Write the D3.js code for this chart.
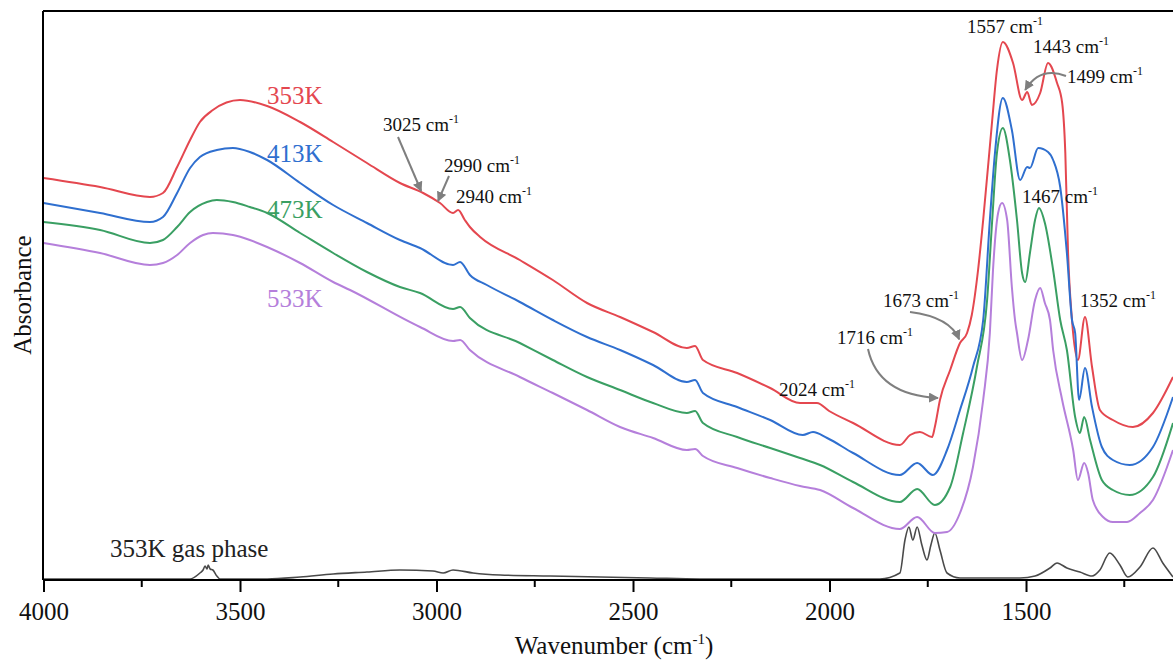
<!DOCTYPE html>
<html>
<head>
<meta charset="utf-8">
<script src="https://cdn.jsdelivr.net/npm/d3@7"></script>
<style>
  html, body { margin: 0; padding: 0; background: #fff; }
  svg text { font-family: "Liberation Serif", "Times New Roman", serif; }
</style>
</head>
<body>
<div id="chart"></div>
<script>
// spectra: [wavenumber (cm-1), absorbance (a.u.)]
const spec353 = [
  [4000, 2.01], [3856, 1.965], [3729, 1.915], [3696, 1.935], [3660, 2.065], [3627, 2.20],
  [3602, 2.29], [3569, 2.35], [3500, 2.40], [3431, 2.37], [3347, 2.29], [3263, 2.19],
  [3177, 2.085], [3093, 1.985], [3034, 1.935], [2991, 1.885], [2958, 1.835], [2945, 1.85],
  [2928, 1.80], [2915, 1.765], [2889, 1.715], [2788, 1.60], [2704, 1.50], [2617, 1.385],
  [2533, 1.315], [2449, 1.24], [2363, 1.16], [2342, 1.17], [2322, 1.10], [2235, 1.035],
  [2151, 0.96], [2075, 0.885], [2032, 0.885], [2001, 0.845], [1940, 0.785], [1821, 0.675],
  [1795, 0.725], [1770, 0.74], [1739, 0.715], [1732, 0.765], [1719, 0.90], [1693, 1.05],
  [1668, 1.185], [1650, 1.235], [1638, 1.325], [1622, 1.55], [1609, 1.80], [1586, 2.30],
  [1574, 2.55], [1559, 2.69], [1533, 2.585], [1510, 2.40], [1497, 2.44], [1485, 2.375],
  [1464, 2.435], [1444, 2.585], [1421, 2.485], [1408, 2.385], [1400, 2.135], [1393, 1.635],
  [1383, 1.30], [1368, 1.10], [1350, 1.315], [1332, 1.065], [1312, 0.85], [1279, 0.80],
  [1228, 0.765], [1177, 0.835], [1126, 1.015]
];

const spec413 = [
  [4000, 1.885], [3856, 1.835], [3729, 1.79], [3696, 1.815], [3660, 1.935], [3627, 2.06],
  [3602, 2.115], [3559, 2.15], [3518, 2.16], [3475, 2.14], [3431, 2.10], [3347, 1.985],
  [3263, 1.875], [3177, 1.785], [3093, 1.70], [3042, 1.66], [2958, 1.575], [2940, 1.59],
  [2915, 1.525], [2872, 1.475], [2788, 1.39], [2704, 1.30], [2617, 1.215], [2533, 1.15],
  [2449, 1.075], [2363, 0.99], [2342, 1.00], [2322, 0.935], [2235, 0.865], [2151, 0.80],
  [2068, 0.725], [2042, 0.74], [2006, 0.71], [1940, 0.635], [1821, 0.525], [1777, 0.585],
  [1737, 0.525], [1701, 0.65], [1668, 0.85], [1635, 1.065], [1609, 1.30], [1592, 1.80],
  [1579, 2.135], [1559, 2.41], [1536, 2.25], [1515, 2.00], [1497, 2.065], [1490, 2.06],
  [1469, 2.16], [1444, 2.14], [1431, 2.10], [1413, 1.965], [1396, 1.635], [1383, 1.30],
  [1375, 1.235], [1365, 0.90], [1350, 1.06], [1332, 0.865], [1307, 0.665], [1279, 0.60],
  [1236, 0.575], [1177, 0.665], [1126, 0.915]
];

const spec473 = [
  [4000, 1.79], [3856, 1.75], [3729, 1.685], [3696, 1.70], [3660, 1.765], [3627, 1.84],
  [3584, 1.89], [3559, 1.90], [3518, 1.89], [3475, 1.865], [3431, 1.835], [3347, 1.735],
  [3263, 1.635], [3177, 1.54], [3093, 1.465], [3042, 1.435], [2958, 1.355], [2940, 1.365],
  [2915, 1.31], [2788, 1.185], [2704, 1.10], [2617, 1.015], [2533, 0.95], [2449, 0.885],
  [2363, 0.835], [2342, 0.845], [2322, 0.785], [2235, 0.715], [2151, 0.66], [2075, 0.61],
  [2024, 0.575], [1940, 0.49], [1821, 0.39], [1777, 0.455], [1732, 0.375], [1693, 0.465],
  [1660, 0.735], [1625, 1.065], [1599, 1.40], [1586, 1.80], [1574, 2.135], [1559, 2.26],
  [1541, 2.10], [1523, 1.80], [1510, 1.535], [1502, 1.49], [1490, 1.635], [1477, 1.80],
  [1467, 1.86], [1452, 1.785], [1431, 1.55], [1413, 1.30], [1396, 1.15], [1375, 0.815],
  [1363, 0.735], [1352, 0.815], [1337, 0.70], [1307, 0.50], [1279, 0.45], [1236, 0.425],
  [1177, 0.515], [1126, 0.785]
];

const spec533 = [
  [4000, 1.685], [3856, 1.635], [3729, 1.575], [3696, 1.585], [3660, 1.625], [3627, 1.685],
  [3594, 1.725], [3569, 1.735], [3518, 1.725], [3475, 1.70], [3431, 1.665], [3347, 1.585],
  [3263, 1.49], [3220, 1.45], [3042, 1.265], [2958, 1.195], [2940, 1.20], [2915, 1.15],
  [2788, 1.015], [2704, 0.935], [2617, 0.85], [2533, 0.765], [2449, 0.71], [2363, 0.65],
  [2342, 0.655], [2322, 0.62], [2235, 0.56], [2151, 0.51], [2075, 0.47], [2024, 0.45],
  [1940, 0.36], [1821, 0.255], [1777, 0.315], [1732, 0.235], [1701, 0.24], [1668, 0.335],
  [1635, 0.565], [1609, 0.90], [1592, 1.235], [1584, 1.55], [1571, 1.835], [1561, 1.885],
  [1548, 1.80], [1536, 1.465], [1528, 1.30], [1523, 1.235], [1510, 1.10], [1495, 1.20],
  [1477, 1.40], [1464, 1.46], [1452, 1.385], [1439, 1.30], [1431, 1.15], [1408, 0.90],
  [1380, 0.65], [1368, 0.50], [1352, 0.585], [1342, 0.535], [1330, 0.40], [1304, 0.315],
  [1279, 0.29], [1243, 0.29], [1210, 0.335], [1177, 0.40], [1126, 0.65]
];

const specGas = [
  [4000, 0.005], [3627, 0.005], [3602, 0.035], [3594, 0.05], [3589, 0.07], [3584, 0.055],
  [3581, 0.075], [3576, 0.055], [3569, 0.05], [3559, 0.02], [3551, 0.005], [3431, 0.005],
  [3347, 0.015], [3263, 0.03], [3177, 0.04], [3093, 0.05], [3009, 0.045], [2983, 0.035],
  [2958, 0.05], [2907, 0.035], [2838, 0.025], [2711, 0.02], [2584, 0.015], [2457, 0.01],
  [2330, 0.005], [2075, 0.005], [1872, 0.005], [1821, 0.035], [1808, 0.20], [1798, 0.265],
  [1788, 0.20], [1777, 0.265], [1765, 0.175], [1752, 0.10], [1742, 0.175], [1732, 0.235],
  [1719, 0.15], [1701, 0.035], [1668, 0.01], [1515, 0.01], [1477, 0.02], [1439, 0.06],
  [1421, 0.085], [1396, 0.06], [1363, 0.04], [1332, 0.02], [1312, 0.05], [1287, 0.135],
  [1261, 0.075], [1241, 0.015], [1210, 0.065], [1177, 0.16], [1152, 0.085], [1126, 0.015]
];

const tempLabels = ["353K", "413K", "473K", "533K"];
const tempColors = ["#e4474f", "#2f6fcf", "#3a9f63", "#b57fdb"];
const majorTicks = [4000, 3500, 3000, 2500, 2000, 1500];
const minorTicks = [3750, 3250, 2750, 2250, 1750, 1250];

// peak annotations: label, text pos (px), arrow from text to a wavenumber on the 353K curve
const peakNotes = [
  { label: "3025", x: 383, y: 131, arrow: { from: [398, 137], via: null, wn: 3034 } },
  { label: "2990", x: 444, y: 172, arrow: { from: [449, 176], via: null, wn: 2991 } },
  { label: "2940", x: 456, y: 203 },
  { label: "2024", x: 779, y: 396 },
  { label: "1716", x: 837, y: 344, arrow: { from: [868, 349], via: [878, 395], wn: 1719 } },
  { label: "1673", x: 883, y: 307, arrow: { from: [910, 312], via: [950, 317], wn: 1665 } },
  { label: "1557", x: 967, y: 33 },
  { label: "1443", x: 1033, y: 53 },
  { label: "1499", x: 1067, y: 83, arrow: { from: [1066, 76], via: [1040, 66], wn: 1497 } },
  { label: "1467", x: 1022, y: 203 },
  { label: "1352", x: 1080, y: 307 }
];

const W = 1173, H = 663;
const margin = { top: 11, left: 43, bottom: 83 };
const plotBottom = H - margin.bottom; // 580

const svg = d3.select("#chart").append("svg")
    .attr("width", W)
    .attr("height", H);

const x = d3.scaleLinear().domain([4000, 1126]).range([margin.left + 0.5, W]);
const y = d3.scaleLinear().domain([0, 2.845]).range([plotBottom, margin.top]);

const line = d3.line()
    .x(d => x(d[0]))
    .y(d => y(d[1]))
    .curve(d3.curveMonotoneX);

// gas phase first, colored spectra on top
svg.append("path")
    .datum(specGas)
    .attr("d", line)
    .attr("fill", "none")
    .attr("stroke", "#4a4a4a")
    .attr("stroke-width", 1.6);

const allSpec = [spec353, spec413, spec473, spec533];
allSpec.forEach((s, i) => {
    svg.append("path")
        .datum(s)
        .attr("d", line)
        .attr("fill", "none")
        .attr("stroke", tempColors[i])
        .attr("stroke-width", 2)
        .attr("stroke-linejoin", "round");
});

// frame: left + top + bottom axis
svg.append("line")
    .attr("x1", margin.left).attr("x2", margin.left)
    .attr("y1", margin.top).attr("y2", plotBottom)
    .attr("stroke", "#000").attr("stroke-width", 2);
svg.append("line")
    .attr("x1", margin.left).attr("x2", W)
    .attr("y1", margin.top).attr("y2", margin.top)
    .attr("stroke", "#000").attr("stroke-width", 2);

const xAxis = d3.axisBottom(x)
    .tickValues(majorTicks)
    .tickSize(12)
    .tickPadding(10)
    .tickFormat(d3.format("d"));

const gx = svg.append("g")
    .attr("transform", `translate(0,${plotBottom})`)
    .call(xAxis);
gx.select(".domain").attr("stroke-width", 2).attr("d", `M${margin.left},0H${W}`);
gx.selectAll(".tick line").attr("stroke-width", 2);
gx.selectAll(".tick text")
    .style("font-family", "Liberation Serif")
    .style("font-size", "25px")
    .attr("fill", "#111");

svg.append("g")
    .attr("transform", `translate(0,${plotBottom})`)
    .selectAll("line")
    .data(minorTicks)
    .join("line")
    .attr("x1", d => x(d)).attr("x2", d => x(d))
    .attr("y1", 0).attr("y2", 7)
    .attr("stroke", "#000").attr("stroke-width", 2);

// axis titles
const xt = svg.append("text")
    .attr("x", 614).attr("y", 654)
    .attr("text-anchor", "middle")
    .style("font-size", "25px")
    .attr("fill", "#111")
    .text("Wavenumber (cm");
xt.append("tspan").attr("dy", -10).style("font-size", "15px").text("-1");
xt.append("tspan").attr("dy", 10).text(")");

svg.append("text")
    .attr("transform", "translate(31,295) rotate(-90)")
    .attr("text-anchor", "middle")
    .style("font-size", "25px")
    .attr("fill", "#111")
    .text("Absorbance");

// temperature labels
const labelPos = [[267, 104], [267, 162], [267, 218], [267, 307]];
tempLabels.forEach((t, i) => {
    svg.append("text")
        .attr("x", labelPos[i][0]).attr("y", labelPos[i][1])
        .style("font-size", "25px")
        .attr("fill", tempColors[i])
        .text(t);
});

svg.append("text")
    .attr("x", 110).attr("y", 557)
    .style("font-size", "25px")
    .attr("fill", "#222")
    .text("353K gas phase");

// arrows
svg.append("defs").append("marker")
    .attr("id", "arrowhead")
    .attr("viewBox", "0 0 10 10")
    .attr("refX", 9).attr("refY", 5)
    .attr("markerWidth", 5).attr("markerHeight", 5)
    .attr("markerUnits", "strokeWidth")
    .attr("orient", "auto")
    .append("path")
    .attr("d", "M0,0L10,5L0,10z")
    .attr("fill", "#7f7f7f");

const onRed = d3.scaleLinear()
    .domain(spec353.map(d => d[0]).reverse())
    .range(spec353.map(d => d[1]).reverse());

peakNotes.forEach(n => {
    const t = svg.append("text")
        .attr("x", n.x).attr("y", n.y)
        .style("font-size", "19px")
        .attr("fill", "#111")
        .text(n.label + " cm");
    t.append("tspan").attr("dy", -8).style("font-size", "12px").text("-1");

    if (n.arrow) {
        const tip = [x(n.arrow.wn) - 2, y(onRed(n.arrow.wn)) - 2];
        let d;
        if (n.arrow.via) {
            d = `M${n.arrow.from[0]},${n.arrow.from[1]}Q${n.arrow.via[0]},${n.arrow.via[1]} ${tip[0]},${tip[1]}`;
        } else {
            d = `M${n.arrow.from[0]},${n.arrow.from[1]}L${tip[0]},${tip[1]}`;
        }
        svg.append("path")
            .attr("d", d)
            .attr("fill", "none")
            .attr("stroke", "#7f7f7f")
            .attr("stroke-width", 2)
            .attr("marker-end", "url(#arrowhead)");
    }
});
</script>
</body>
</html>
